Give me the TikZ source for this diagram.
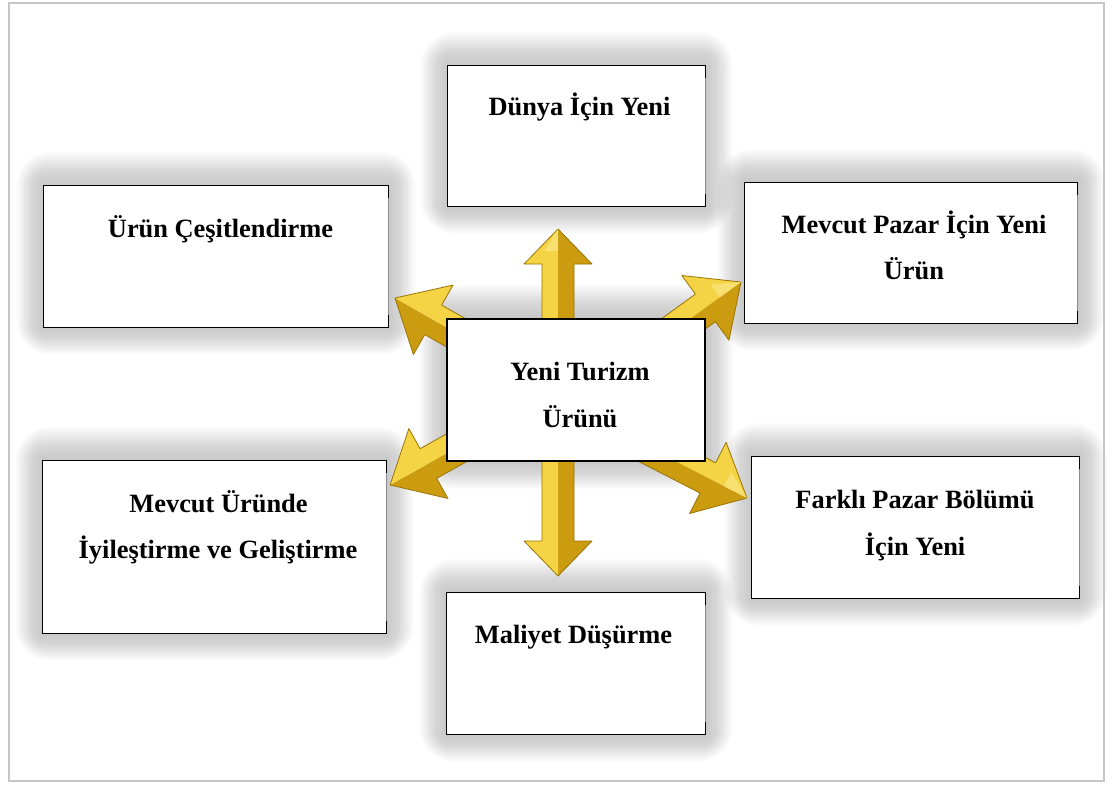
\documentclass[tikz,border=0pt]{standalone}
\usepackage{fontspec}
\setmainfont{Liberation Serif}
\usetikzlibrary{calc}

\pgfdeclarelayer{glow}
\pgfdeclarelayer{arrows}
\pgfsetlayers{glow,arrows,main}

\definecolor{goldlight}{HTML}{F4D344}
\definecolor{golddark}{HTML}{CB9B10}
\definecolor{goldhi}{HTML}{F8E070}
\definecolor{goldedge}{HTML}{9A7404}
\definecolor{framegray}{HTML}{C6C6C6}

\tikzset{
  box/.style={fill=white, inner sep=0pt},
  edge/.style={draw=black, line width=1.3pt},
  softedge/.style={draw=black!45, line width=1pt},
  lbl/.style={anchor=base, inner sep=0pt, font=\bfseries\fontsize{26.4}{32}\selectfont},
  glowlayer/.style={black, opacity=0.006},
}

% soft grey glow around a box
\newcommand\glowring[2]{%
  \fill[glowlayer, rounded corners=#2 pt]
    ([xshift=-0.8*#2 pt, yshift=#2 pt]#1.north west) rectangle
    ([xshift=0.8*#2 pt, yshift=-0.8*#2 pt]#1.south east);
}
\newcommand\boxglow[1]{%
  \begin{pgfonlayer}{glow}
    \foreach \d in {2,4,...,34}{\glowring{#1}{\d}}
    \foreach \d in {16,18,...,34}{\glowring{#1}{\d}}
  \end{pgfonlayer}}

% outline with a faint right side and dark ticks at its ends
\newcommand\boxedges[1]{%
  \draw[softedge] (#1.north east) -- (#1.south east);
  \draw[edge] ($(#1.north east)+(0,12)$) -- (#1.north east) -- (#1.north west)
    -- (#1.south west) -- (#1.south east) -- ++(0,-12);
}

% bevelled golden arrow: start, tip, shaft half width, head half width,
% head length, colour of the left half, colour of the right half
\newcommand\goldarrow[7]{%
  \coordinate (hb) at ($(#2)!#5!(#1)$);
  \fill[#6] (#1) -- ($(#1)!#3!90:(#2)$) -- ($(hb)!#3!90:(#2)$)
        -- ($(hb)!#4!90:(#2)$) -- (#2) -- cycle;
  \fill[#7] (#1) -- ($(#1)!#3!-90:(#2)$) -- ($(hb)!#3!-90:(#2)$)
        -- ($(hb)!#4!-90:(#2)$) -- (#2) -- cycle;
  \draw[goldedge, line width=0.8pt, line join=round]
    ($(#1)!#3!90:(#2)$) -- ($(hb)!#3!90:(#2)$) -- ($(hb)!#4!90:(#2)$)
    -- (#2) -- ($(hb)!#4!-90:(#2)$) -- ($(hb)!#3!-90:(#2)$) -- ($(#1)!#3!-90:(#2)$);
}
% small bright facet near the tip
\newcommand\arrowshine[4]{%
  \fill[goldhi] ($(#2)!#4!(#1)$) -- ($($(#2)!#4!(#1)$)!#3!90:(#2)$) -- (#2) -- cycle;
}

\begin{document}
\begin{tikzpicture}[x=1pt, y=-1pt]
  \useasboundingbox (0,0) rectangle (1108,785);
  \begin{pgfonlayer}{glow}
    \fill[white] (0,0) rectangle (1108,785);
  \end{pgfonlayer}
  \draw[framegray, line width=1.8pt] (9,3) rectangle (1104,781);

  % boxes
  \node[box, minimum width=257pt, minimum height=140pt] (dunya)  at (576.5,136) {};
  \node[box, minimum width=344pt, minimum height=141pt] (cesit)  at (216,256.5) {};
  \node[box, minimum width=332pt, minimum height=140pt] (mevpaz) at (911,253) {};
  \node[box, minimum width=343pt, minimum height=172pt] (iyiles) at (214.5,547) {};
  \node[box, minimum width=327pt, minimum height=141pt] (farkli) at (915.5,527.5) {};
  \node[box, minimum width=258pt, minimum height=141pt] (maliy)  at (576,663.5) {};
  \node[box, edge, minimum width=258pt, minimum height=142pt] (yeni) at (576,390) {};

  \boxedges{dunya}\boxedges{cesit}\boxedges{mevpaz}
  \boxedges{iyiles}\boxedges{farkli}\boxedges{maliy}

  \boxglow{dunya}\boxglow{cesit}\boxglow{mevpaz}\boxglow{iyiles}
  \boxglow{farkli}\boxglow{maliy}\boxglow{yeni}

  % arrows radiating from the central box
  \coordinate (sUp) at (558,400); \coordinate (tUp) at (558,229);
  \coordinate (sDn) at (558,400); \coordinate (tDn) at (558,576);
  \coordinate (sUL) at (558,391); \coordinate (tUL) at (395,298);
  \coordinate (sUR) at (558,415); \coordinate (tUR) at (741,282);
  \coordinate (sLL) at (558,391); \coordinate (tLL) at (390,485);
  \coordinate (sLR) at (558,401); \coordinate (tLR) at (747,498);
  \begin{pgfonlayer}{arrows}
    \goldarrow{sUL}{tUL}{17pt}{40pt}{44pt}{golddark}{goldlight}
    \goldarrow{sLL}{tLL}{17pt}{40pt}{44pt}{golddark}{goldlight}
    \goldarrow{sUR}{tUR}{17pt}{40pt}{44pt}{goldlight}{golddark}
    \goldarrow{sLR}{tLR}{17pt}{40pt}{44pt}{goldlight}{golddark}
    \goldarrow{sUp}{tUp}{16pt}{34pt}{35pt}{goldlight}{golddark}
    \goldarrow{sDn}{tDn}{16pt}{34pt}{35pt}{golddark}{goldlight}
    \arrowshine{sUp}{tUp}{14pt}{22pt}
    \arrowshine{sUR}{tUR}{16pt}{26pt}
    \arrowshine{sLR}{tLR}{16pt}{26pt}
  \end{pgfonlayer}

  % labels
  \node[lbl] (tdunya) at (579.5,115) {Dünya İçin Yeni};
  \node[lbl] (tcesit) at (220.5,237) {Ürün Çeşitlendirme};
  \node[lbl] (tmev1)  at (914,233) {Mevcut Pazar İçin Yeni};
  \node[lbl] (tmev2)  at (914,279) {Ürün};
  \node[lbl] (tyen1)  at (580,380) {Yeni Turizm};
  \node[lbl] (tyen2)  at (580,427) {Ürünü};
  \node[lbl] (tiyi1)  at (218.5,512) {Mevcut Üründe};
  \node[lbl] (tiyi2)  at (218,558) {İyileştirme ve Geliştirme};
  \node[lbl] (tfar1)  at (915,508) {Farklı Pazar Bölümü};
  \node[lbl] (tfar2)  at (915,555) {İçin Yeni};
  \node[lbl] (tmal)   at (573.5,643) {Maliyet Düşürme};
\end{tikzpicture}
\end{document}
